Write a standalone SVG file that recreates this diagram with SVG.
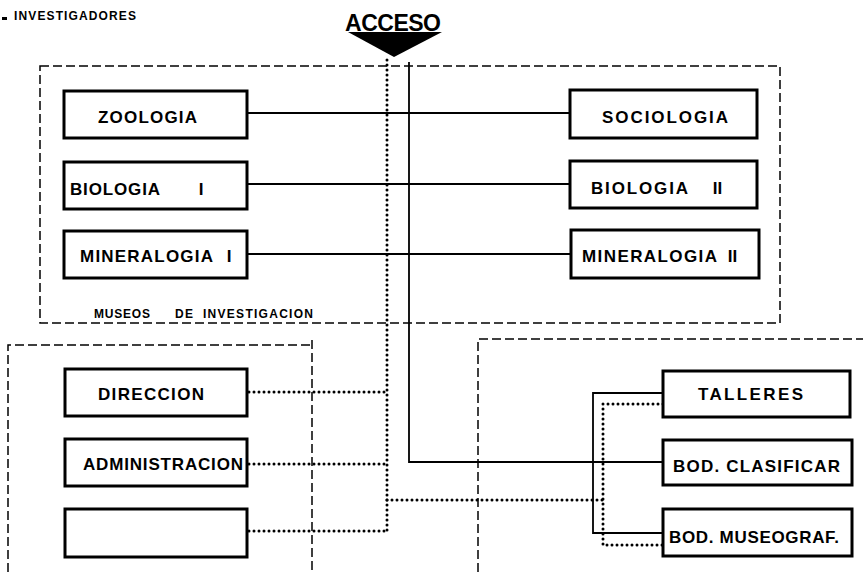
<svg xmlns="http://www.w3.org/2000/svg" width="863" height="572" viewBox="0 0 863 572">
<style>
.bg{fill:#fff}
.box{fill:#fff;stroke:#000;stroke-width:3}
.lbl{font-family:"Liberation Sans",Arial,sans-serif;font-weight:bold;font-size:17px;fill:#000}
.small{font-family:"Liberation Sans",Arial,sans-serif;font-weight:bold;font-size:12px;fill:#000}
.big{font-family:"Liberation Sans",Arial,sans-serif;font-weight:bold;font-size:23px;fill:#000}
.dash{fill:none;stroke:#000;stroke-width:1.5;stroke-dasharray:9 4}
.solid{fill:none;stroke:#000;stroke-width:1.8}
.dot{fill:none;stroke:#000;stroke-width:3;stroke-linecap:round;stroke-dasharray:0 5}
</style>
<rect class="bg" x="0" y="0" width="863" height="572"/>
<g id="header">
<rect x="2" y="17" width="5" height="3" fill="#000"/>
<text class="small" x="14" y="20" textLength="122" lengthAdjust="spacing">INVESTIGADORES</text>
</g>
<g id="acceso">
<text class="big" x="345" y="31" textLength="96" lengthAdjust="spacing">ACCESO</text>
<polygon points="348,32 442,32 394,57" fill="#000"/>
</g>
<g id="zones">
<rect class="dash" x="40" y="66" width="740" height="257"/>
<text class="small" y="318"><tspan x="94" textLength="56" lengthAdjust="spacing">MUSEOS</tspan><tspan x="175" textLength="18" lengthAdjust="spacing">DE</tspan><tspan x="203" textLength="110" lengthAdjust="spacing">INVESTIGACION</tspan></text>
<path class="dash" d="M8,572 V345 H312 M312,340 V572"/>
<path class="dash" d="M478,572 V339 H863"/>
</g>
<g id="connectors">
<path class="solid" d="M247,113 H570 M247,184 H570 M247,254 H571"/>
<path class="solid" d="M409,62 V462 H663"/>
<path class="solid" d="M663,393 H593 V533 H663"/>
<path class="dot" d="M387,60 V531"/>
<path class="dot" d="M249,392 H387 M249,464 H387 M249,531 H387"/>
<path class="dot" d="M387,500 H603"/>
<path class="dot" d="M663,404 H603 V545 H663"/>
</g>
<g id="zoologia"><rect class="box" x="64" y="91" width="183" height="47"/><text class="lbl" x="98" y="123" textLength="99" lengthAdjust="spacing">ZOOLOGIA</text></g>
<g id="biologia1"><rect class="box" x="64" y="162" width="183" height="47"/><text class="lbl" y="195"><tspan x="70" textLength="90" lengthAdjust="spacing">BIOLOGIA</tspan><tspan x="194"> I</tspan></text></g>
<g id="mineralogia1"><rect class="box" x="64" y="231" width="183" height="47"/><text class="lbl" y="262"><tspan x="80" textLength="133" lengthAdjust="spacing">MINERALOGIA</tspan><tspan x="222"> I</tspan></text></g>
<g id="sociologia"><rect class="box" x="570" y="90" width="187" height="48"/><text class="lbl" x="602" y="123" textLength="126" lengthAdjust="spacing">SOCIOLOGIA</text></g>
<g id="biologia2"><rect class="box" x="570" y="161" width="187" height="47"/><text class="lbl" y="194"><tspan x="591" textLength="97" lengthAdjust="spacing">BIOLOGIA</tspan><tspan x="708"> II</tspan></text></g>
<g id="mineralogia2"><rect class="box" x="571" y="230" width="188" height="48"/><text class="lbl" y="262"><tspan x="582" textLength="135" lengthAdjust="spacing">MINERALOGIA</tspan><tspan x="723"> II</tspan></text></g>
<g id="direccion"><rect class="box" x="65" y="369" width="182" height="47"/><text class="lbl" x="98" y="400" textLength="106" lengthAdjust="spacing">DIRECCION</text></g>
<g id="administracion"><rect class="box" x="65" y="439" width="182" height="47"/><text class="lbl" x="83" y="470" textLength="160" lengthAdjust="spacing">ADMINISTRACION</text></g>
<g id="vacio"><rect class="box" x="65" y="509" width="182" height="48"/></g>
<g id="talleres"><rect class="box" x="663" y="371" width="187" height="46"/><text class="lbl" x="698" y="400" textLength="105" lengthAdjust="spacing">TALLERES</text></g>
<g id="bodclasificar"><rect class="box" x="663" y="440" width="189" height="45"/><text class="lbl" x="673" y="472" textLength="167" lengthAdjust="spacing">BOD. CLASIFICAR</text></g>
<g id="bodmuseograf"><rect class="box" x="663" y="509" width="189" height="47"/><text class="lbl" x="669" y="543" textLength="170" lengthAdjust="spacing">BOD. MUSEOGRAF.</text></g>
</svg>
